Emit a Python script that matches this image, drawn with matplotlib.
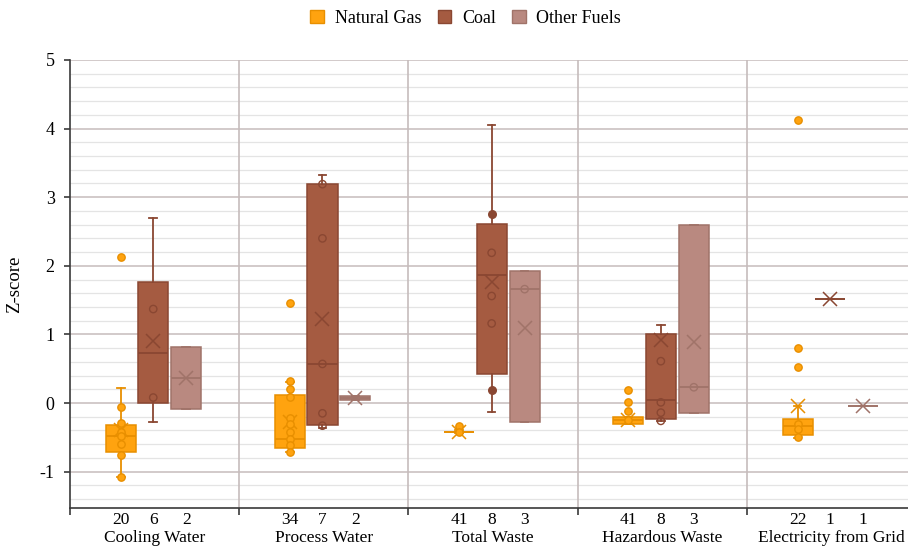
import matplotlib
matplotlib.use("Agg")
import matplotlib.pyplot as plt
from matplotlib.patches import Patch

plt.rcParams['font.family'] = ['Liberation Serif', 'DejaVu Serif']
plt.rcParams['axes.unicode_minus'] = False

# ---- data ----
categories = ["Cooling Water", "Process Water", "Total Waste",
              "Hazardous Waste", "Electricity from Grid"]
fuels = ["Natural Gas", "Coal", "Other Fuels"]
counts = {
    "Natural Gas": [20, 34, 41, 41, 22],
    "Coal": [6, 7, 8, 8, 1],
    "Other Fuels": [2, 2, 3, 3, 1],
}

ng_q1 = [-0.72, -0.66, -0.42, -0.30, -0.47]
ng_med = [-0.48, -0.52, -0.42, -0.25, -0.33]
ng_q3 = [-0.32, 0.11, -0.42, -0.21, -0.23]
ng_lo = [-1.08, -0.72, -0.44, -0.30, -0.51]
ng_hi = [0.22, 0.30, -0.40, -0.21, -0.04]
ng_mean = [-0.39, -0.27, -0.42, -0.25, -0.05]
ng_points = [
    [2.13, -0.06, -0.29, -0.42, -0.48, -0.60, -0.76, -1.08],
    [1.46, 0.32, 0.21, 0.09, -0.22, -0.31, -0.42, -0.52, -0.61, -0.72],
    [-0.34, -0.42],
    [0.19, 0.02, -0.11, -0.25],
    [4.12, 0.80, 0.53, -0.30, -0.38, -0.49],
]

coal_q1 = [0.00, -0.32, 0.43, -0.23, 1.52]
coal_med = [0.73, 0.57, 1.87, 0.05, 1.52]
coal_q3 = [1.76, 3.19, 2.61, 1.01, 1.52]
coal_lo = [-0.28, -0.37, -0.13, -0.26, 1.52]
coal_hi = [2.70, 3.32, 4.05, 1.14, 1.52]
coal_mean = [0.91, 1.22, 1.76, 0.92, 1.52]
coal_points = [
    [1.37, 0.08],
    [3.19, 2.40, 0.57, -0.15, -0.33],
    [2.19, 1.56, 1.16],
    [0.61, 0.01, -0.14, -0.26],
    [],
]
coal_solid = [[], [], [2.75, 0.19], [], []]

oth_q1 = [-0.09, 0.04, -0.28, -0.14, -0.05]
oth_med = [0.37, 0.07, 1.66, 0.23, -0.05]
oth_q3 = [0.82, 0.10, 1.92, 2.60, -0.05]
oth_mean = [0.37, 0.07, 1.10, 0.89, -0.05]
oth_points = [[], [], [1.66], [0.23], []]

# ---- styling ----
face = {"Natural Gas": "#FFA30F", "Coal": "#A55B41", "Other Fuels": "#B98980"}
edge = {"Natural Gas": "#E88F00", "Coal": "#8A4732", "Other Fuels": "#A07369"}
offsets = {"Natural Gas": 0.30, "Coal": 0.492, "Other Fuels": 0.687}
BOX_W = 0.178

fig = plt.figure(figsize=(9.08, 5.47), dpi=100)
ax = fig.add_axes([70 / 908, 39 / 547, 846 / 908, 448 / 547])
ax.set_xlim(0, 5)
ax.set_ylim(-1.53, 5)

# gridlines
for y in [round(-1.4 + 0.2 * i, 2) for i in range(33)]:
    if abs(y - round(y)) < 1e-6:
        ax.axhline(y, color="#c6bcbc", lw=1.1, zorder=1)
    else:
        ax.axhline(y, color="#e4e4e4", lw=0.9, zorder=0.5)
for x in range(1, 6):
    ax.axvline(x, color="#c6bcbc", lw=1.2, zorder=1)

def stats_for(q1, med, q3, lo, hi, mean):
    return [dict(q1=a, med=b, q3=c, whislo=d, whishi=e, mean=f, fliers=[])
            for a, b, c, d, e, f in zip(q1, med, q3, lo, hi, mean)]

series = {
    "Natural Gas": (stats_for(ng_q1, ng_med, ng_q3, ng_lo, ng_hi, ng_mean), ng_points),
    "Coal": (stats_for(coal_q1, coal_med, coal_q3, coal_lo, coal_hi, coal_mean), coal_points),
    "Other Fuels": (stats_for(oth_q1, oth_med, oth_q3, oth_q1, oth_q3, oth_mean), oth_points),
}

tick_pos, tick_lab = [], []
for fuel in fuels:
    stats, pts = series[fuel]
    pos = [i + offsets[fuel] for i in range(5)]
    ec = edge[fuel]
    ax.bxp(stats, positions=pos, widths=BOX_W, capwidths=0.045,
           patch_artist=True, showmeans=True, showfliers=False,
           boxprops=dict(facecolor=face[fuel], edgecolor=ec, lw=1.1),
           medianprops=dict(color=ec, lw=1.3),
           whiskerprops=dict(color=ec, lw=1.3),
           capprops=dict(color=ec, lw=1.3),
           meanprops=dict(marker="x", markeredgecolor=ec, markersize=10.5,
                          markeredgewidth=1.1),
           zorder=3)
    for i, vals in enumerate(pts):
        if not vals:
            continue
        if fuel == "Natural Gas":
            ax.scatter([pos[i]] * len(vals), vals, s=28, facecolor=face[fuel],
                       edgecolor=ec, lw=1.0, zorder=4)
        else:
            ax.scatter([pos[i]] * len(vals), vals, s=28, facecolor="none",
                       edgecolor=ec, lw=1.0, zorder=4)
    if fuel == "Coal":
        for i, vals in enumerate(coal_solid):
            if vals:
                ax.scatter([pos[i]] * len(vals), vals, s=30, facecolor=ec,
                           edgecolor=ec, lw=1.0, zorder=4)
    for i in range(5):
        tick_pos.append(pos[i])
        tick_lab.append(str(counts[fuel][i]))

# axes, ticks and labels
for s in ["top", "right"]:
    ax.spines[s].set_visible(False)
for s in ["left", "bottom"]:
    ax.spines[s].set_color("#3a3a3a")
    ax.spines[s].set_linewidth(1.2)

ax.set_xticks(tick_pos)
ax.set_xticklabels(tick_lab, fontsize=12.5)
ax.set_xticks(range(0, 6), minor=True)
ax.tick_params(axis="x", which="major", length=0, pad=3)
ax.tick_params(axis="x", which="minor", length=5, width=1.2, color="#3a3a3a")
ax.set_yticks(range(-1, 6))
ax.tick_params(axis="y", length=4, width=1.2, color="#3a3a3a", pad=7,
               labelsize=13)

for i, name in enumerate(categories):
    ax.text(i + 0.5, -0.049, name, transform=ax.get_xaxis_transform(),
            ha="center", va="top", fontsize=12.5)

ax.set_ylabel("Z-score", fontsize=13.5, labelpad=12)
ax.yaxis.set_label_coords(-0.056, 0.5)

handles = [Patch(facecolor=face[f], edgecolor=edge[f], lw=1.0) for f in fuels]
fig.legend(handles, fuels, loc="center", bbox_to_anchor=(0.513, 0.967),
           ncol=3, frameon=False, fontsize=13, handlelength=0.75,
           handleheight=0.75, handletextpad=0.6, columnspacing=0.9)

fig.savefig("out.png", dpi=100)
